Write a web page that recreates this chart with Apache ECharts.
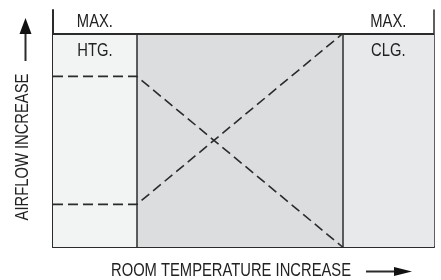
<!DOCTYPE html>
<html>
<head>
<meta charset="utf-8">
<script src="https://cdn.jsdelivr.net/npm/echarts@6/dist/echarts.min.js"></script>
<style>
  html, body { margin: 0; padding: 0; background: #fff; }
  #chart { width: 441px; height: 280px; }
</style>
</head>
<body>
<div id="chart"></div>
<script>
// region boundaries along room temperature (0..100) and airflow (0..100)
const zoneBreaks = [0, 22, 76, 100]
const zoneColors = ['#f2f3f3', '#dcdddf', '#e8e9ea']
const maxAirflow = 90
// dashed airflow curves
const heatingCurve = [[0, 72], [22, 72], [76, 0]]
const coolingCurve = [[0, 18], [22, 18], [76, 90]]
// zone labels [x, y, text]
const zoneLabels = [
  [11, 95, 'MAX.'], [11, 82.5, 'HTG.'],
  [88, 95, 'MAX.'], [88, 82.5, 'CLG.']
]
const xTitle = 'ROOM TEMPERATURE INCREASE'
const yTitle = 'AIRFLOW INCREASE'

const ink = '#2b2b2b'
const font = "18px 'Liberation Sans', Arial, sans-serif"
const narrow = 0.82 // squeeze text, no narrow font installed

const chart = echarts.init(document.getElementById('chart'))

const zoneAreas = zoneColors.map((c, i) => [
  { xAxis: zoneBreaks[i], yAxis: 0, itemStyle: { color: c } },
  { xAxis: zoneBreaks[i + 1], yAxis: maxAirflow }
])

const dashed = (data) => ({
  type: 'line',
  data,
  symbol: 'none',
  silent: true,
  lineStyle: { color: ink, width: 1.6, type: [10, 5] }
})

const hiddenAxis = {
  type: 'value', min: 0, max: 100,
  axisTick: { show: false }, axisLabel: { show: false }, splitLine: { show: false }
}

chart.setOption({
  animation: false,
  grid: { left: 53, right: 7, top: 10, bottom: 33 },
  xAxis: { ...hiddenAxis, axisLine: { show: true, lineStyle: { color: ink, width: 2 } } },
  yAxis: [
    { ...hiddenAxis, axisLine: { show: true, lineStyle: { color: ink, width: 2 } } },
    { ...hiddenAxis, position: 'right', axisLine: { show: true, lineStyle: { color: ink, width: 1.5 } } }
  ],
  series: [
    {
      type: 'line',
      data: [],
      silent: true,
      markArea: { silent: true, data: zoneAreas },
      markLine: {
        silent: true,
        symbol: 'none',
        label: { show: false },
        lineStyle: { color: ink, type: 'solid', width: 1.5 },
        data: [
          [{ coord: [zoneBreaks[1], 0] }, { coord: [zoneBreaks[1], maxAirflow] }],
          [{ coord: [zoneBreaks[2], 0] }, { coord: [zoneBreaks[2], maxAirflow] }],
          [{ coord: [0, maxAirflow], lineStyle: { width: 2 } }, { coord: [100, maxAirflow] }]
        ]
      }
    },
    dashed(heatingCurve),
    dashed(coolingCurve)
  ]
})

const txt = (text, x, y, rotation) => ({
  type: 'text', x, y, z: 100, rotation: rotation || 0, scaleX: narrow,
  style: { text, fill: '#222', font, align: 'center', verticalAlign: 'middle' }
})

const labelGraphics = zoneLabels.map(d => {
  const p = chart.convertToPixel({ gridIndex: 0 }, [d[0], d[1]])
  return txt(d[2], p[0], p[1])
})

chart.setOption({
  graphic: [
    ...labelGraphics,
    txt(xTitle, 231, 271),
    { type: 'line', z: 100, shape: { x1: 366, y1: 271.5, x2: 396, y2: 271.5 }, style: { stroke: ink, lineWidth: 2 } },
    { type: 'polygon', z: 100, shape: { points: [[394, 267], [412, 271.5], [394, 276]] }, style: { fill: '#111' } },
    txt(yTitle, 23, 147, Math.PI / 2),
    { type: 'line', z: 100, shape: { x1: 25.5, y1: 61, x2: 25.5, y2: 32 }, style: { stroke: ink, lineWidth: 2 } },
    { type: 'polygon', z: 100, shape: { points: [[19.5, 34], [25.5, 18], [31.5, 34]] }, style: { fill: '#111' } }
  ]
})
</script>
</body>
</html>
